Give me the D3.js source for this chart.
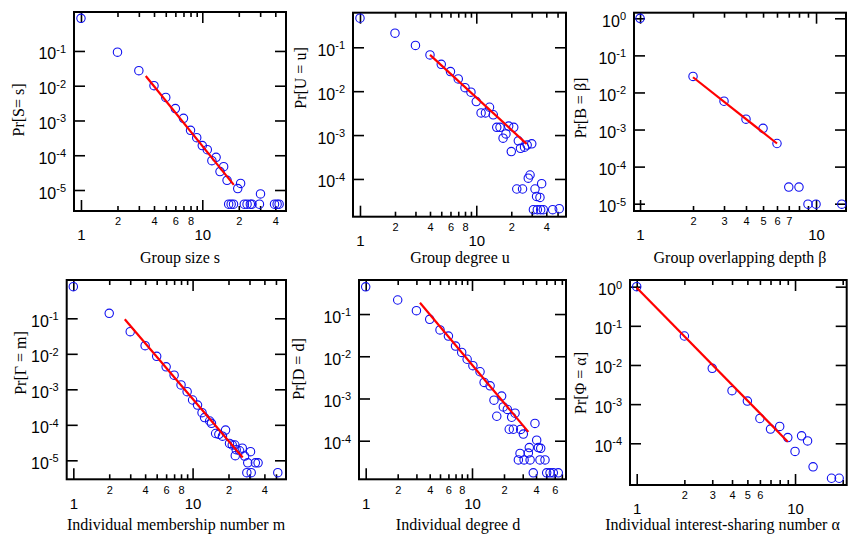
<!DOCTYPE html>
<html>
<head>
<meta charset="utf-8">
<script src="https://cdn.jsdelivr.net/npm/d3@7"></script>
<style>
  body { margin: 0; background: #fff; }
  svg { display: block; }
  .lab { font-family: "Liberation Sans", Arial, sans-serif; fill: #000; }
  .ttl { font-family: "Liberation Serif", "Times New Roman", serif; font-size: 16px; fill: #000; }
</style>
</head>
<body>
<svg id="chart" width="848" height="535"></svg>
<script>
// ---- Group size s ----
const groupSizeS = [1, 2, 3, 4, 5, 6, 7, 8, 9, 10, 11, 12, 13, 14, 15, 16, 16.5, 17.3, 18.1, 19.6, 20.7, 22.2, 23.4, 24.9, 25.7, 29.6, 30.2, 39.4, 41.4, 43];
const groupSizeP = [0.87, 0.092, 0.027, 0.010, 0.0046, 0.0022, 0.00115, 5.2e-4, 3.2e-4, 1.9e-4, 1.45e-4, 7e-5, 8.7e-5, 3.4e-5, 4.7e-5, 1.9e-5, 3.9e-6, 3.9e-6, 3.9e-6, 1.1e-5, 1.55e-5, 3.9e-6, 3.9e-6, 3.9e-6, 3.9e-6, 3.9e-6, 7.7e-6, 3.9e-6, 3.9e-6, 3.9e-6];
const groupSizeFitS = [3.42, 18.2];
const groupSizeFitP = [0.0191, 1.41e-5];

// ---- Group degree u ----
const groupDegreeU = [1, 2, 3, 4, 5, 6, 7, 8, 9, 10, 11, 12, 13, 14, 15, 16, 17, 18, 19, 20, 21, 22.3, 23, 24, 25, 26, 27.4, 28, 29, 30, 31, 32, 33, 33.5, 35.3, 35.8, 36.5, 37.7, 45.4, 51.7];
const groupDegreeP = [0.46, 0.21, 0.11, 0.067, 0.041, 0.028, 0.019, 0.012, 0.0095, 0.0058, 0.0032, 0.0032, 0.0043, 0.0029, 0.0015, 0.0015, 8.5e-4, 0.00106, 0.0016, 4.2e-4, 0.0015, 5.9e-5, 7.4e-4, 5e-4, 5.9e-5, 5.3e-4, 5.9e-4, 1.04e-4, 1.23e-4, 6.3e-4, 2.0e-5, 5.9e-5, 4e-5, 2.0e-5, 3.8e-5, 2.0e-5, 7.8e-5, 2.0e-5, 2.0e-5, 2.1e-5];
const groupDegreeFitU = [4.0, 27.1];
const groupDegreeFitP = [0.067, 6.3e-4];

// ---- Group overlapping depth beta ----
const overlapBeta = [1, 2, 3, 4, 5, 6, 7, 8, 9, 10, 14];
const overlapP = [1.0, 0.027, 0.0058, 0.0019, 0.00108, 4.2e-4, 2.8e-5, 2.8e-5, 9.7e-6, 9.7e-6, 9.7e-6];
const overlapFitBeta = [2, 6];
const overlapFitP = [0.0257, 4.2e-4];

// ---- Individual membership number m ----
const memberM = [1, 2, 3, 4, 5, 6, 7, 8, 9, 10, 11, 12, 12.6, 13.9, 14.4, 15.6, 16.6, 17.8, 18.9, 20.4, 21.5, 22.6, 22.8, 23.2, 24.8, 26.1, 27.3, 28.5, 29, 30.6, 31, 33.6, 35.4, 51.8];
const memberP = [0.78, 0.138, 0.042, 0.017, 0.0085, 0.0043, 0.0025, 0.00133, 8.6e-4, 5e-4, 3.6e-4, 2.2e-4, 1.6e-4, 1.28e-4, 1.1e-4, 5.7e-5, 5.4e-5, 4.8e-5, 7.1e-5, 3.0e-5, 2.7e-5, 2.7e-5, 1.35e-5, 2.0e-5, 1.86e-5, 2.2e-5, 1.32e-5, 4.5e-6, 8.5e-6, 1.75e-5, 4.5e-6, 8.5e-6, 8.5e-6, 4.5e-6];
const memberFitM = [2.7, 26.3];
const memberFitP = [0.094, 1.2e-5];

// ---- Individual degree d ----
const degreeD = [1, 2, 3, 4, 5, 6, 7, 8, 9, 10.2, 11.9, 13, 14.8, 16.1, 17.1, 19, 19.7, 21.5, 22.4, 23.6, 24.5, 25.4, 27.3, 28.3, 28.7, 30.4, 30.9, 33.9, 34.6, 35.2, 37.7, 39.1, 40.6, 42.1, 43.6, 44.3, 48.6, 50.4, 54.2, 58.2, 64.8];
const degreeP = [0.44, 0.215, 0.12, 0.075, 0.042, 0.030, 0.0174, 0.0123, 0.0085, 0.006, 0.0043, 0.0024, 0.0020, 9.1e-4, 3.8e-4, 0.00114, 6.3e-4, 5.5e-4, 1.87e-4, 3.6e-4, 1.87e-4, 4.5e-4, 3.5e-5, 5e-5, 1.85e-4, 1.44e-4, 3.5e-5, 5.1e-5, 6.9e-5, 3.5e-5, 1.74e-5, 2.57e-4, 1.03e-4, 6.9e-5, 3.5e-5, 6.6e-5, 3.5e-5, 1.74e-5, 1.74e-5, 1.74e-5, 1.74e-5];
const degreeFitD = [3.24, 33.9];
const degreeFitP = [0.185, 1.62e-4];

// ---- Individual interest-sharing number alpha ----
const interestAlpha = [1, 2, 3, 4, 5, 6, 7, 8, 9, 10, 11, 12, 13, 17, 19];
const interestP = [1.0, 0.055, 0.0082, 0.0022, 0.0012, 4.3e-4, 2.3e-4, 2.7e-4, 1.4e-4, 6.2e-5, 1.55e-4, 1.15e-4, 2.5e-5, 1.28e-5, 1.28e-5];
const interestFitAlpha = [1, 9.0];
const interestFitP = [0.94, 1.1e-4];

// ---- tick labels ----
const xMajorLabels = [1, 10];
const xMinorLabelsA = [2, 4, 6, 8, 20, 40];
const xMinorLabelsB = [2, 4, 6, 8, 20, 40, 60];
const xMinorLabelsDepth = [2, 3, 4, 5, 6, 7];
const xMinorLabelsShare = [2, 3, 4, 5, 6];
const yExpA = [-1, -2, -3, -4, -5];
const yExpB = [-1, -2, -3, -4];
const yExpC = [0, -1, -2, -3, -4, -5];
const yExpD = [0, -1, -2, -3, -4];

// ---- axis titles ----
const xTitles = ["Group size s", "Group degree u", "Group overlapping depth \u03B2",
                 "Individual membership number m", "Individual degree d", "Individual interest-sharing number \u03B1"];
const yTitles = ["Pr[S= s]", "Pr[U = u]", "Pr[B = \u03B2]", "Pr[\u0393 = m]", "Pr[D = d]", "Pr[\u03A6 = \u03B1]"];

// panel frames [left, top, right, bottom] and log-axis extents
const panels = [
  { xs: groupSizeS, ps: groupSizeP, fx: groupSizeFitS, fp: groupSizeFitP, box: [74, 12, 286, 211],
    xd: [0.876, 49.0], yd: [2.49e-6, 1.32], xl: xMinorLabelsA, ye: yExpA, tx: 180, ty: 263, yt: [18, 110] },
  { xs: groupDegreeU, ps: groupDegreeP, fx: groupDegreeFitU, fp: groupDegreeFitP, box: [353, 12.7, 566, 216.7],
    xd: [0.871, 59.1], yd: [1.38e-5, 0.614], xl: xMinorLabelsA, ye: yExpB, tx: 460, ty: 263, yt: [300.5, 78] },
  { xs: overlapBeta, ps: overlapP, fx: overlapFitBeta, fp: overlapFitP, box: [634, 12.7, 846, 211],
    xd: [0.924, 14.8], yd: [6.35e-6, 1.416], xl: xMinorLabelsDepth, ye: yExpC, tx: 740, ty: 263, yt: [580, 108] },
  { xs: memberM, ps: memberP, fx: memberFitM, fp: memberFitP, box: [66.7, 280, 286, 479.3],
    xd: [0.88, 60.7], yd: [2.92e-6, 1.2], xl: xMinorLabelsA, ye: yExpA, tx: 176, ty: 530, yt: [20, 363] },
  { xs: degreeD, ps: degreeP, fx: degreeFitD, fp: degreeFitP, box: [359, 280, 566, 479.3],
    xd: [0.865, 76.6], yd: [1.22e-5, 0.64], xl: xMinorLabelsB, ye: yExpB, tx: 458, ty: 530, yt: [298, 369] },
  { xs: interestAlpha, ps: interestP, fx: interestFitAlpha, fp: interestFitP, box: [630, 280, 846.7, 485],
    xd: [0.907, 21.2], yd: [8.6e-6, 1.48], xl: xMinorLabelsShare, ye: yExpD, tx: 722.5, ty: 530, yt: [580.5, 383] }
];

const svg = d3.select("#chart");

function strip(sel) { sel.select(".domain").remove(); return sel; }

panels.forEach((p, i) => {
  const [L, T, R, B] = p.box;
  const x = d3.scaleLog().domain(p.xd).range([L, R]);
  const y = d3.scaleLog().domain(p.yd).range([B, T]);
  const g = svg.append("g");

  // log-decade tick positions inside the x extent
  const minor = [], major = [];
  for (let e = 0; e <= 2; e++) {
    for (let m = 1; m <= 9; m++) {
      const v = m * Math.pow(10, e);
      if (v >= p.xd[0] && v <= p.xd[1]) (m === 1 ? major : minor).push(v);
    }
  }
  const decades = p.ye.map(e => Math.pow(10, e));

  const tickStyle = s => s.selectAll(".tick line").attr("stroke", "#000").attr("stroke-width", 1.6);

  // inward ticks on all four sides
  g.append("g").attr("transform", `translate(0,${B})`)
    .call(d3.axisBottom(x).tickValues(minor).tickSize(-5).tickFormat("")).call(strip).call(tickStyle);
  g.append("g").attr("transform", `translate(0,${B})`)
    .call(d3.axisBottom(x).tickValues(major).tickSize(-11).tickFormat("")).call(strip).call(tickStyle);
  g.append("g").attr("transform", `translate(0,${T})`)
    .call(d3.axisTop(x).tickValues(minor).tickSize(-5).tickFormat("")).call(strip).call(tickStyle);
  g.append("g").attr("transform", `translate(0,${T})`)
    .call(d3.axisTop(x).tickValues(major).tickSize(-11).tickFormat("")).call(strip).call(tickStyle);
  g.append("g").attr("transform", `translate(${L},0)`)
    .call(d3.axisLeft(y).tickValues(decades).tickSize(-11).tickFormat("")).call(strip).call(tickStyle);
  g.append("g").attr("transform", `translate(${R},0)`)
    .call(d3.axisRight(y).tickValues(decades).tickSize(-11).tickFormat("")).call(strip).call(tickStyle);

  // frame
  g.append("rect").attr("x", L).attr("y", T).attr("width", R - L).attr("height", B - T)
    .attr("fill", "none").attr("stroke", "#000").attr("stroke-width", 2);

  // x labels: leading digit row and decade row
  const xl1 = g.append("g").attr("transform", `translate(0,${B})`)
    .call(d3.axisBottom(x).tickValues(p.xl).tickSize(0).tickPadding(6.5).tickFormat(d => String(d).charAt(0)))
    .call(strip);
  xl1.selectAll("text").attr("class", "lab").attr("font-size", 11).attr("font-family", null);
  const xl2 = g.append("g").attr("transform", `translate(0,${B})`)
    .call(d3.axisBottom(x).tickValues(xMajorLabels).tickSize(0).tickPadding(18.8).tickFormat(d3.format("d")))
    .call(strip);
  xl2.selectAll("text").attr("class", "lab").attr("font-size", 15).attr("font-family", null);

  // y labels: 10 with superscript exponent
  const yl = g.append("g").attr("transform", `translate(${L},0)`)
    .call(d3.axisLeft(y).tickValues(decades).tickSize(0).tickPadding(8).tickFormat(""))
    .call(strip);
  yl.selectAll(".tick text")
    .attr("class", "lab").attr("font-family", null).attr("font-size", 16).attr("dy", "0.5em")
    .each(function (d) {
      const t = d3.select(this);
      t.append("tspan").text("10");
      t.append("tspan").attr("font-size", 11).attr("dy", -6.5).text(String(Math.round(Math.log10(d))));
    });

  // data points
  g.append("g").selectAll("circle").data(p.xs.map((v, k) => [v, p.ps[k]])).join("circle")
    .attr("cx", d => x(d[0])).attr("cy", d => y(d[1])).attr("r", 4.2)
    .attr("fill", "none").attr("stroke", "#1010f0").attr("stroke-width", 1.1);

  // power-law fit
  g.append("path").datum(p.fx.map((v, k) => [v, p.fp[k]]))
    .attr("d", d3.line().x(d => x(d[0])).y(d => y(d[1])))
    .attr("stroke", "#ff0000").attr("stroke-width", 2.2).attr("fill", "none");

  // axis titles
  g.append("text").attr("class", "ttl").attr("x", p.tx).attr("y", p.ty)
    .attr("text-anchor", "middle").text(xTitles[i]);
  g.append("text").attr("class", "ttl")
    .attr("transform", `translate(${p.yt[0]},${p.yt[1]}) rotate(-90)`)
    .attr("text-anchor", "middle").attr("dy", "0.35em").text(yTitles[i]);
});
</script>
</body>
</html>
